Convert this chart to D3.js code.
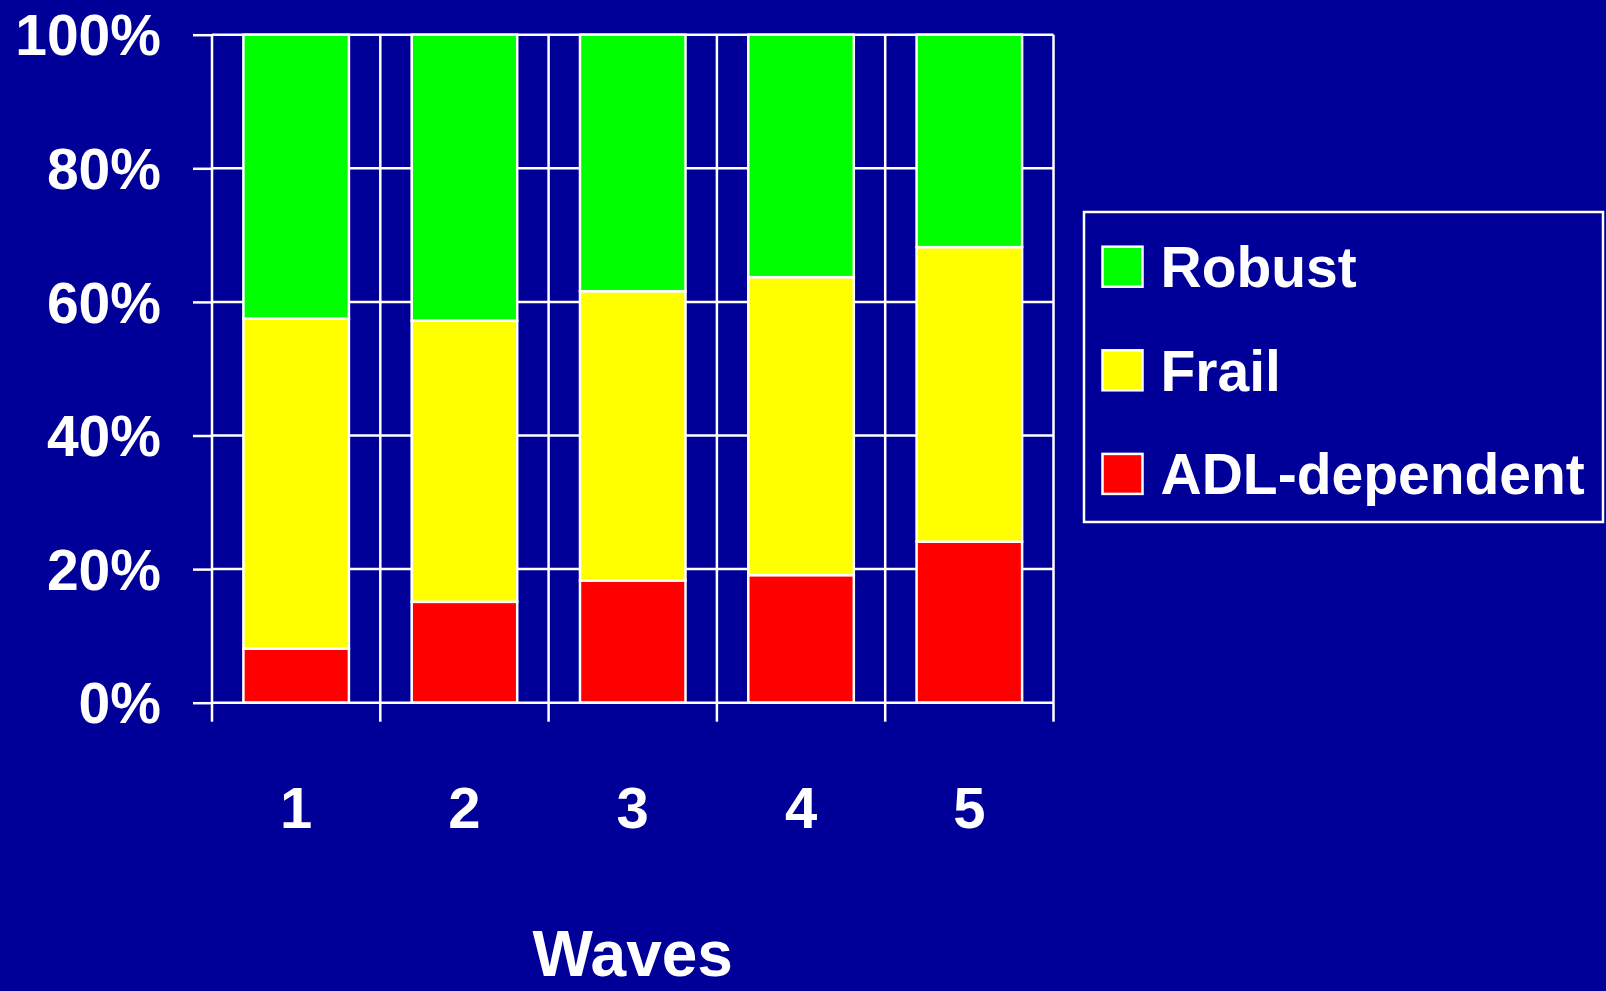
<!DOCTYPE html>
<html>
<head>
<meta charset="utf-8">
<script src="https://cdn.jsdelivr.net/npm/d3@7"></script>
<style>
  html, body { margin: 0; padding: 0; background: #000099; overflow: hidden; }
  svg { display: block; }
  text { font-family: "Comic Sans MS", "Liberation Sans", Arial, sans-serif; font-weight: bold; fill: #ffffff; }
</style>
</head>
<body>
<svg id="chart" width="1606" height="991"></svg>
<script>
// ---- data ----
const waves = ["1", "2", "3", "4", "5"];
const seriesNames = ["ADL-dependent", "Frail", "Robust"];
const adlDependent = [8.1, 15.1, 18.3, 19.1, 24.1];
const frail = [49.4, 42.1, 43.3, 44.6, 44.1];
const robust = [42.5, 42.8, 38.4, 36.3, 31.8];
const yTicks = [0, 20, 40, 60, 80, 100];
const seriesColors = ["#FF0000", "#FFFF00", "#00FF00"];
const legendOrder = ["Robust", "Frail", "ADL-dependent"];
const xTitle = "Waves";

(function () {
// ---- layout ----
const W = 1606, H = 991;
const mLeft = 212, mRight = 1053.5, mTop = 34.7, mBottom = 702.7;
const svg = d3.select("#chart");
svg.append("rect").attr("width", W).attr("height", H).attr("fill", "#000099");

const rows = waves.map((w, i) => ({
  wave: w,
  "ADL-dependent": adlDependent[i],
  "Frail": frail[i],
  "Robust": robust[i]
}));
const stacked = d3.stack().keys(seriesNames)(rows);

const pad = 0.373;
const x = d3.scaleBand().domain(waves).range([mLeft, mRight])
  .paddingInner(pad).paddingOuter(pad / 2);
const xb = d3.scaleLinear().domain([0, waves.length]).range([mLeft, mRight]);
const y = d3.scaleLinear().domain([0, 100]).range([mBottom, mTop]);
const color = d3.scaleOrdinal().domain(seriesNames).range(seriesColors);

const g = svg.append("g");

// gridlines
g.selectAll("line.hgrid").data(yTicks.filter(t => t > 0)).join("line")
  .attr("class", "hgrid")
  .attr("x1", mLeft).attr("x2", mRight)
  .attr("y1", d => y(d)).attr("y2", d => y(d))
  .attr("stroke", "#ffffff").attr("stroke-width", 2.5);
g.selectAll("line.vgrid").data(d3.range(1, waves.length + 1)).join("line")
  .attr("class", "vgrid")
  .attr("x1", d => xb(d)).attr("x2", d => xb(d))
  .attr("y1", mTop).attr("y2", mBottom)
  .attr("stroke", "#ffffff").attr("stroke-width", 2.5);

// bars
g.selectAll("g.layer").data(stacked).join("g")
  .attr("class", "layer")
  .attr("fill", d => color(d.key))
  .selectAll("rect").data(d => d).join("rect")
  .attr("x", d => x(d.data.wave))
  .attr("width", x.bandwidth())
  .attr("y", d => y(d[1]))
  .attr("height", d => y(d[0]) - y(d[1]))
  .attr("stroke", "#ffffff").attr("stroke-width", 2.5);

// y axis
const yAxis = d3.axisLeft(y).tickValues(yTicks).tickSize(19).tickPadding(32)
  .tickFormat(d => d + "%");
const ya = svg.append("g").attr("transform", `translate(${mLeft},0)`).call(yAxis);
ya.select(".domain").attr("stroke", "#ffffff").attr("stroke-width", 2.5)
  .attr("d", `M0,${mBottom}V${mTop}`);
ya.selectAll(".tick line").attr("stroke", "#ffffff").attr("stroke-width", 2.5);
ya.selectAll(".tick text").attr("font-size", 57).attr("dy", "0.355em")
  .attr("fill", "#ffffff")
  .style("font-family", '"Comic Sans MS", "Liberation Sans", Arial, sans-serif')
  .style("font-weight", "bold");

// x axis: baseline + boundary ticks
svg.append("line").attr("x1", mLeft).attr("x2", mRight).attr("y1", mBottom).attr("y2", mBottom)
  .attr("stroke", "#ffffff").attr("stroke-width", 2.5);
svg.selectAll("line.xtick").data(d3.range(0, waves.length + 1)).join("line")
  .attr("class", "xtick")
  .attr("x1", d => xb(d)).attr("x2", d => xb(d))
  .attr("y1", mBottom).attr("y2", mBottom + 19)
  .attr("stroke", "#ffffff").attr("stroke-width", 2.5);
svg.selectAll("text.xlab").data(waves).join("text")
  .attr("class", "xlab")
  .attr("x", d => x(d) + x.bandwidth() / 2)
  .attr("y", 828)
  .attr("text-anchor", "middle")
  .attr("font-size", 58)
  .text(d => d);

// x title
svg.append("text")
  .attr("x", (mLeft + mRight) / 2)
  .attr("y", 976)
  .attr("text-anchor", "middle")
  .attr("font-size", 64)
  .text(xTitle);

// legend
const lg = svg.append("g");
lg.append("rect").attr("x", 1084).attr("y", 212).attr("width", 519).attr("height", 310)
  .attr("fill", "none").attr("stroke", "#ffffff").attr("stroke-width", 2.5);
const items = lg.selectAll("g.item").data(legendOrder).join("g")
  .attr("class", "item")
  .attr("transform", (d, i) => `translate(1102.5, ${246.7 + i * 103.6})`);
items.append("rect").attr("width", 40).attr("height", 40)
  .attr("fill", d => color(d)).attr("stroke", "#ffffff").attr("stroke-width", 2.5);
items.append("text").attr("x", 58).attr("y", 20).attr("dy", "0.355em")
  .attr("font-size", 57).text(d => d);
})();
</script>
</body>
</html>
